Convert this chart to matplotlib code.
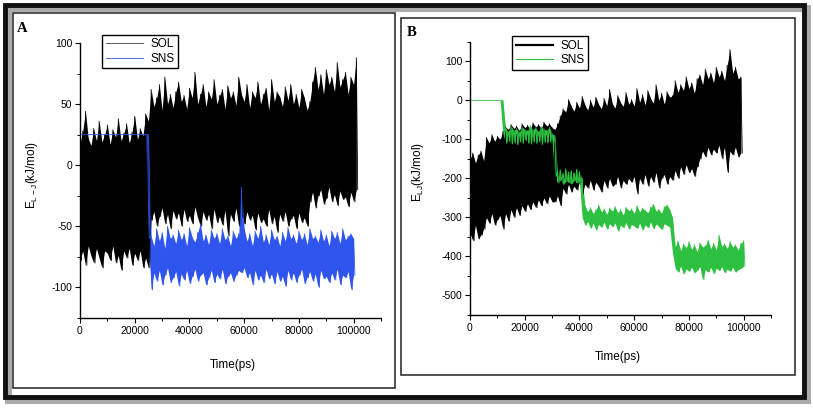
import numpy as np
import matplotlib
matplotlib.use("Agg")
import matplotlib.pyplot as plt
from matplotlib.patches import Rectangle
from matplotlib.ticker import MultipleLocator

plt.rcParams['font.family'] = ['Liberation Sans', 'DejaVu Sans']
plt.rcParams['mathtext.default'] = 'regular'
plt.rcParams['axes.unicode_minus'] = False

# ---- panel A: peaks (hi) and troughs (lo) every 1000 ps ----
a_sol_t0, a_sol_t1 = 0, 101000
a_sol_hi = [18, 28, 44, 22, 16, 30, 20, 36, 19, 25, 33, 17, 29, 23, 38, 20, 26, 34, 18, 27, 40, 21, 30, 24, 42,
            36, 62, 48, 55, 66, 45, 72, 50, 58, 47, 60, 68, 52, 57, 46, 63, 55, 76, 50, 58,
            66, 48, 60, 54, 70, 50, 57, 62, 46, 65, 55, 60, 49, 72, 58, 52, 66, 47, 60, 55,
            68, 50, 58, 63, 45, 70, 52, 60, 56, 48, 64, 53, 66, 50, 58, 47, 62, 55, 45,
            52, 68, 80, 62, 74, 58, 78, 66, 72, 60, 84, 64, 70, 76, 58, 72, 66, 88]
a_sol_lo = [-78, -70, -82, -66, -74, -80, -68, -76, -84, -70, -72, -78, -66, -80, -74, -86, -70, -76, -68, -82,
            -72, -78, -70, -84, -76,
            -84, -45, -38, -50, -42, -35, -48, -40, -52, -37, -44, -39, -50, -36, -46, -41, -48, -34, -43, -50,
            -38, -45, -40, -52, -36, -47, -42, -49, -37, -58, -40, -46, -35, -50, -43, -48, -38, -45, -41, -53,
            -39, -47, -44, -50, -36, -48, -42, -55, -40, -46, -38, -50, -44, -41, -52, -39, -47, -43, -50,
            -30, -22, -35, -25, -20, -32, -27, -18, -30, -24, -33, -21, -28, -26, -34, -22, -30, -20]

a_sns_t0, a_sns_t1 = 0, 100000
a_sns_hi = [25] * 25 + [25] + \
    [-58, -66, -52, -62, -55, -68, -50, -60, -57, -64, -53, -61, -56, -66, -51, -59, -63, -55, -48, -62,
     -57, -65, -53, -60, -56, -64, -52, -61, -58, -66, -54, -60, -56] + [-18] + \
    [-52, -62, -56, -66, -54, -60, -50, -63, -57, -65, -53, -61, -58, -66, -55, -62, -51, -60, -57, -64,
     -54, -61, -56, -65, -52, -60, -58, -63, -53, -62, -57, -66, -54, -60, -55, -64, -52, -61, -58, -56, -60]
a_sns_lo = [25] * 25 + [-60] + \
    [-102, -88, -95, -86, -98, -90, -84, -96, -92, -87, -99, -89, -94, -86, -97, -91, -85, -95, -90, -88,
     -98, -92, -86, -96, -89, -93, -85, -97, -91, -88, -95, -90, -86] + [-88] + \
    [-84, -92, -88, -98, -86, -94, -90, -96, -85, -93, -89, -97, -87, -95, -91, -99, -86, -94, -88, -96,
     -90, -85, -97, -92, -87, -95, -89, -100, -86, -93, -91, -96, -88, -94, -85, -98, -90, -92, -87, -102, -90]

# ---- panel B ----
b_sol_t0, b_sol_t1 = 0, 99000
b_sol_hi = [-150, -135, -160, -140, -130, -155,
            -95, -110, -88, -105, -92, -100,
            -80, -68, -75, -62, -72, -66, -78, -60, -70, -64, -74, -58, -68, -62, -72, -56, -66, -60, -70,
            -75, -60,
            -40, -22, -30, 2, -15, -28, -5, -20, 10, -12, -25, 0, -18, 8, -10, -22, 5, -14, 28, -8,
            -20, 12, -5, -16, 20, -10, 2, -15,
            30, -5, 15, -12, 25, 5, -8, 40, 0, 18, -10, 22, 8, 12,
            50, 20, 40, 25, 60, 30, 45, 18, 55,
            65, 40, 80, 55, 70, 45, 85, 60, 75, 50, 90, 130, 70, 85, 55, 60]
b_sol_lo = [-340, -360, -320, -355, -345, -330,
            -300, -315, -290, -320, -305, -295,
            -330, -290, -310, -280, -300, -275, -295, -270, -285, -265, -280, -260, -275, -255, -270, -250,
            -265, -245, -260,
            -260, -245,
            -270, -225, -240, -215, -235, -220, -230, -210, -240, -215, -225, -205, -230, -210, -220, -235,
            -205, -225, -200, -220, -215, -195, -225, -205, -215, -200, -210, -195,
            -240, -200, -215, -190, -220, -195, -210, -185, -225, -200, -190, -215, -195, -205,
            -180, -200, -170, -190, -165, -185, -175, -195, -170,
            -150, -130, -145, -120, -140, -125, -135, -115, -150, -120, -185, -130, -140, -120, -145, -135]

b_sns_t0, b_sns_t1 = 0, 100000
b_sns_hi = [0] * 12 + [0] + \
    [-70, -80, -66, -76, -72, -82, -68, -74, -78, -64, -75, -70, -80, -67, -73, -77, -69, -85] + [-90] + \
    [-182, -178, -188, -175, -184, -180, -186, -176, -183] + [-200] + \
    [-270, -285, -275, -290, -280, -268, -286, -278, -292, -276, -284, -272, -288, -280, -294, -274,
     -283, -278, -290, -270, -286, -276, -282, -288, -274, -266, -284, -279, -290, -272, -268, -280] + [-300] + \
    [-375, -360, -385, -368, -378, -362, -382, -370, -388, -365, -376, -372, -358, -380, -366, -384,
     -345, -374, -368, -380, -362, -376, -370, -384, -366, -360]
b_sns_lo = [0] * 12 + [-85] + \
    [-110, -102, -112, -106, -114, -104, -110, -100, -108, -112, -105, -110, -103, -113, -106, -109,
     -104, -111] + [-195] + \
    [-212, -205, -215, -208, -210, -214, -206, -212, -209] + [-300] + \
    [-320, -310, -328, -315, -332, -318, -325, -312, -330, -316, -324, -314, -335, -320, -326, -313,
     -330, -318, -322, -328, -315, -332, -319, -326, -312, -329, -317, -323, -331, -316, -320, -325] + [-390] + \
    [-430, -440, -425, -445, -432, -438, -428, -442, -435, -426, -460, -434, -440, -428, -444, -430,
     -436, -426, -442, -432, -438, -428, -440, -434, -430, -425]


def draw_trace(ax, t0, t1, hi, lo, color, label):
    t = np.linspace(t0, t1, len(hi))
    ax.fill_between(t, lo, hi, color=color, lw=0)
    x = np.column_stack([t, t + 500]).ravel()
    y = np.column_stack([hi, lo]).ravel()
    ax.plot(x, y, color=color, lw=0.6, label=label)


fig = plt.figure(figsize=(8.13, 4.09), dpi=100)


def style(ax, ylim, ymaj, ymin):
    ax.set_xlim(0, 110000)
    ax.set_ylim(*ylim)
    for s in ('top', 'right'):
        ax.spines[s].set_visible(False)
    for s in ('left', 'bottom'):
        ax.spines[s].set_linewidth(1.0)
    ax.xaxis.set_major_locator(MultipleLocator(20000))
    ax.xaxis.set_minor_locator(MultipleLocator(10000))
    ax.yaxis.set_major_locator(MultipleLocator(ymaj))
    ax.yaxis.set_minor_locator(MultipleLocator(ymin))
    ax.tick_params(which='major', direction='out', length=3.5, width=0.8, labelsize=7.5, pad=2)
    ax.tick_params(which='minor', direction='out', length=2, width=0.7)


def legend(ax, anchor):
    leg = ax.legend(loc='upper left', bbox_to_anchor=anchor, borderaxespad=0, fontsize=8.5,
                    fancybox=False, edgecolor='black', framealpha=1, handlelength=3.2,
                    borderpad=0.3, labelspacing=0.2, handletextpad=0.6)
    leg.get_frame().set_linewidth(1.0)
    return leg


# panel A
axA = fig.add_axes([0.0984, 0.2225, 0.3702, 0.6724])
draw_trace(axA, a_sol_t0, a_sol_t1, a_sol_hi, a_sol_lo, 'black', 'SOL')
draw_trace(axA, a_sns_t0, a_sns_t1, a_sns_hi, a_sns_lo, '#2f55ee', 'SNS')
style(axA, (-125, 100), 50, 25)
legA = legend(axA, (0.073, 1.03))
legA.legend_handles[0].set_color('#444444')

# panel B
axB = fig.add_axes([0.5781, 0.2298, 0.3702, 0.668])
draw_trace(axB, b_sol_t0, b_sol_t1, b_sol_hi, b_sol_lo, 'black', 'SOL')
draw_trace(axB, b_sns_t0, b_sns_t1, b_sns_hi, b_sns_lo, '#2ec040', 'SNS')
style(axB, (-550, 150), 100, 50)
legB = legend(axB, (0.14, 1.02))
legB.legend_handles[0].set_linewidth(1.6)
legB.legend_handles[1].set_linewidth(0.8)

# labels
W, H = 813, 409
fig.text(32 / W, 1 - 175 / H, 'E$_{L-J}$(kJ/mol)', rotation=90, ha='center', va='center', fontsize=8.5)
fig.text(418 / W, 1 - 172 / H, 'E$_{LJ}$(kJ/mol)', rotation=90, ha='center', va='center', fontsize=8.5)
fig.text(233 / W, 1 - 365 / H, 'Time(ps)', ha='center', va='center', fontsize=8.5)
fig.text(618 / W, 1 - 357 / H, 'Time(ps)', ha='center', va='center', fontsize=8.5)
fig.text(22 / W, 1 - 28 / H, 'A', ha='center', va='center', fontsize=10.5, fontweight='bold',
         family='Liberation Serif')
fig.text(412 / W, 1 - 32 / H, 'B', ha='center', va='center', fontsize=10.5, fontweight='bold',
         family='Liberation Serif')


# frames
def frame(x0, y0, x1, y1, lw, color):
    fig.patches.append(Rectangle((x0 / W, 1 - y1 / H), (x1 - x0) / W, (y1 - y0) / H,
                                 transform=fig.transFigure, fill=False, lw=lw, ec=color))


frame(8, 8, 807, 400, 5, '#aaaaaa')
frame(5, 5, 804, 397, 3.5, '#111111')
frame(13, 13, 395, 388, 1.2, '#333333')
frame(401, 18, 795, 375, 1.2, '#333333')

fig.savefig('out.png', dpi=100)
